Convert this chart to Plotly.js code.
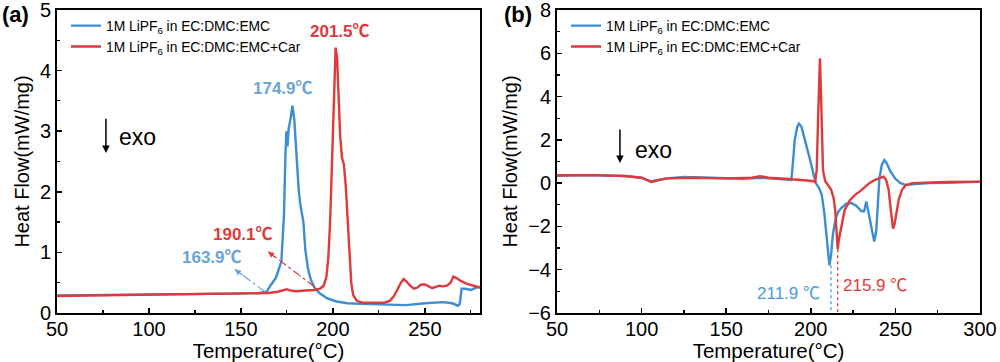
<!DOCTYPE html>
<html>
<head>
<meta charset="utf-8">
<script src="https://cdn.plot.ly/plotly-3.0.1.min.js"></script>
<style>html,body{margin:0;padding:0;background:#fff;}#chart{width:1000px;height:362px;}</style>
</head>
<body>
<div id="chart"></div>
<script>
// ---------- Data: panel (a) ----------
const aBlueT = [50,100,150,160,164,166,169,172,173.4,174.2,174.7,175.3,176,177,178,179,180.2,181.5,182.5,183.3,184,185,186.5,188,190,193,197,202,208,215,225,235,240,250,260,265,268,269,270,272,275,278,280];
const aBlueV = [0.29,0.30,0.32,0.33,0.35,0.45,0.58,0.85,1.6,2.6,3.0,2.75,3.05,3.2,3.42,3.2,2.6,2.0,1.75,1.62,1.5,1.05,0.72,0.55,0.42,0.32,0.24,0.19,0.16,0.15,0.14,0.13,0.13,0.16,0.18,0.16,0.12,0.15,0.40,0.40,0.38,0.42,0.43];
const aRedT = [50,70,100,130,150,165,170,173,175,177,180,185,190,193,195,196.5,197.5,198.5,199.5,200.5,201.5,202.3,203,204,205,206,207,208,209,210,211,213,216,222,228,231,233,235,237,238.5,240,242,244,246,248,250,252,254,256,258,260,262,264,265.5,267,270,273,276,280];
const aRedV = [0.28,0.29,0.30,0.31,0.32,0.33,0.35,0.37,0.39,0.37,0.36,0.37,0.38,0.40,0.45,0.6,0.9,1.5,2.4,3.5,4.38,4.2,3.6,2.9,2.55,2.45,2.1,1.5,0.9,0.5,0.3,0.2,0.17,0.17,0.17,0.2,0.27,0.38,0.5,0.56,0.52,0.45,0.4,0.42,0.47,0.47,0.44,0.41,0.43,0.45,0.44,0.45,0.5,0.6,0.58,0.52,0.48,0.45,0.42];

// ---------- Data: panel (b) ----------
const bBlueT = [50,70,90,100,105,108,115,125,135,150,160,170,175,185,188.5,189.5,190.5,192,193,194.5,197,199.5,201.5,203,205,206.5,208,209.5,211,212,213,214.5,216,218,221,224,227,230,231.5,232.8,234,236,237.5,238.7,239.5,240.5,242,243.5,245,247,250,253,256,260,270,280,290,300];
const bBlueV = [0.35,0.37,0.33,0.25,0.08,0.12,0.22,0.28,0.25,0.2,0.2,0.25,0.22,0.17,0.15,1.0,2.0,2.6,2.75,2.6,1.9,1.1,0.45,0.0,-0.25,-0.55,-1.4,-2.6,-3.8,-3.3,-2.4,-1.7,-1.35,-1.15,-0.95,-0.92,-1.05,-1.3,-1.3,-0.85,-1.3,-2.2,-2.7,-2.2,-1.2,0.2,0.85,1.07,0.9,0.55,0.2,0.0,-0.08,-0.05,0.0,0.02,0.05,0.06];
const bRedT = [50,70,90,100,106,109,115,130,150,165,170,175,185,195,201,202.5,203.5,204.3,205,205.4,205.9,206.5,207.2,208.5,210,212,213.5,214.5,215.2,215.9,216.6,218,220,223,226,229,232,235,238,241,243,244.5,246,247.5,248.6,249.5,250.5,252,254,256,260,270,280,300];
const bRedV = [0.35,0.37,0.33,0.25,0.05,0.12,0.22,0.25,0.22,0.25,0.32,0.25,0.2,0.15,0.1,0.05,0.6,3.0,5.6,5.77,4.5,2.5,0.6,0.1,-0.1,-0.3,-0.7,-1.3,-2.2,-3.05,-2.6,-2.0,-1.25,-0.8,-0.55,-0.38,-0.2,0.02,0.15,0.25,0.3,0.15,-0.3,-1.4,-2.1,-1.9,-1.4,-0.75,-0.3,-0.1,0.0,0.03,0.05,0.07];

const seriesNames = ['1M LiPF<sub>6</sub> in EC:DMC:EMC','1M LiPF<sub>6</sub> in EC:DMC:EMC+Car'];
const xTicksA = [50,100,150,200,250];
const xTicksB = [50,100,150,200,250,300];
const peakA = [{t:201.5,label:'201.5℃'},{t:174.9,label:'174.9℃'},{t:190.1,label:'190.1℃'},{t:163.9,label:'163.9℃'}];
const peakB = [{t:211.9,v:-3.8,label:'211.9 ℃'},{t:215.9,v:-3.05,label:'215.9 ℃'}];

const BLUE = '#3d8ed1', RED = '#e0393b', BLUE_L = '#6aa3d6';
const FONT = 'Arial, "Liberation Sans", "Noto Sans CJK SC", sans-serif';
const AX_FS = 20;

const traces = [
  {x:aBlueT,y:aBlueV,xaxis:'x',yaxis:'y',mode:'lines',name:seriesNames[0],line:{color:BLUE,width:2.4},legend:'legend'},
  {x:aRedT,y:aRedV,xaxis:'x',yaxis:'y',mode:'lines',name:seriesNames[1],line:{color:RED,width:2.4},legend:'legend'},
  {x:bBlueT,y:bBlueV,xaxis:'x2',yaxis:'y2',mode:'lines',name:seriesNames[0],line:{color:BLUE,width:2.4},legend:'legend2'},
  {x:bRedT,y:bRedV,xaxis:'x2',yaxis:'y2',mode:'lines',name:seriesNames[1],line:{color:RED,width:2.4},legend:'legend2'}
];

const ydom = [0.1354,0.9724];
function xax(dom, range, ticks, anchor){
  return {domain:dom, range:range, anchor:anchor, tickvals:ticks, ticks:'inside', ticklen:5, tickwidth:1.5, tickcolor:'#000',
    showline:true, linewidth:2, linecolor:'#000', mirror:true, showgrid:false, zeroline:false, ticklabeloverflow:'allow',
    ticklabelstandoff:-3,
    minor:{ticks:'inside', ticklen:3, tickwidth:1.2, tickcolor:'#000', dtick:25, tick0:50},
    tickfont:{family:FONT,size:AX_FS,color:'#000'},
    title:{text:'Temperature(°C)', font:{family:FONT,size:20.5,color:'#000'}, standoff:1}};
}
function yax(range, dtick, anchor){
  return {domain:ydom, range:range, anchor:anchor, dtick:dtick, ticks:'inside', ticklen:5, tickwidth:1.5, tickcolor:'#000',
    showline:true, linewidth:2, linecolor:'#000', mirror:true, showgrid:false, zeroline:false, ticklabeloverflow:'allow',
    minor:{ticks:'inside', ticklen:3, tickwidth:1.2, tickcolor:'#000', dtick:dtick/2},
    tickfont:{family:FONT,size:AX_FS,color:'#000'},
    title:{text:'Heat Flow(mW/mg)', font:{family:FONT,size:20,color:'#000'}, standoff:5}};
}

const annotations = [
  {xref:'paper',yref:'paper',x:0,y:1.0,xanchor:'left',yanchor:'top',text:'<b>(a)</b>',showarrow:false,font:{family:FONT,size:22,color:'#000'}},
  {xref:'paper',yref:'paper',x:0.502,y:1.0,xanchor:'left',yanchor:'top',text:'<b>(b)</b>',showarrow:false,font:{family:FONT,size:22,color:'#000'}},
  // panel a peak labels
  {xref:'x',yref:'y',x:203.8,y:4.64,text:'<b>'+peakA[0].label+'</b>',showarrow:false,font:{family:FONT,size:17,color:RED}},
  {xref:'x',yref:'y',x:172.8,y:3.70,text:'<b>'+peakA[1].label+'</b>',showarrow:false,font:{family:FONT,size:17,color:BLUE_L}},
  {xref:'x',yref:'y',x:151.1,y:1.30,text:'<b>'+peakA[2].label+'</b>',showarrow:false,font:{family:FONT,size:17,color:RED}},
  {xref:'x',yref:'y',x:134.2,y:0.91,text:'<b>'+peakA[3].label+'</b>',showarrow:false,font:{family:FONT,size:17,color:BLUE_L}},
  // arrowheads for dash-dot arrows
  {xref:'x',yref:'y',x:146.7,y:0.72,ax:9,ay:7,text:'',showarrow:true,arrowhead:2,arrowsize:1,arrowwidth:1.2,arrowcolor:BLUE_L},
  {xref:'x',yref:'y',x:164.8,y:1.01,ax:9,ay:7,text:'',showarrow:true,arrowhead:2,arrowsize:1,arrowwidth:1.2,arrowcolor:RED},
  // exo arrows
  {xref:'x',yref:'y',axref:'x',ayref:'y',x:76.6,y:2.64,ax:76.6,ay:3.23,text:'',showarrow:true,arrowhead:2,arrowsize:1,arrowwidth:1.5,arrowcolor:'#000'},
  {xref:'x',yref:'y',x:82.6,y:2.90,xanchor:'left',text:'exo',showarrow:false,font:{family:FONT,size:23,color:'#000'}},
  {xref:'x2',yref:'y2',axref:'x2',ayref:'y2',x:87.2,y:0.93,ax:87.2,ay:2.55,text:'',showarrow:true,arrowhead:2,arrowsize:1,arrowwidth:1.5,arrowcolor:'#000'},
  {xref:'x2',yref:'y2',x:94.9,y:1.53,xanchor:'left',text:'exo',showarrow:false,font:{family:FONT,size:23,color:'#000'}},
  // panel b labels
  {xref:'x2',yref:'y2',x:187.1,y:-5.08,text:peakB[0].label,showarrow:false,font:{family:FONT,size:17,color:'#4a9ad8'}},
  {xref:'x2',yref:'y2',x:237.9,y:-4.71,text:peakB[1].label,showarrow:false,font:{family:FONT,size:17,color:RED}}
];

const shapes = [
  {type:'line',xref:'x',yref:'y',x0:163.0,y0:0.35,x1:146.7,y1:0.72,line:{color:BLUE_L,width:1.2,dash:'dashdot'}},
  {type:'line',xref:'x',yref:'y',x0:190.2,y0:0.43,x1:164.8,y1:1.01,line:{color:RED,width:1.2,dash:'dashdot'}},
  {type:'line',xref:'x2',yref:'y2',x0:peakB[0].t,y0:peakB[0].v,x1:peakB[0].t,y1:-6,line:{color:'#4a9ad8',width:1.3,dash:'dot'}},
  {type:'line',xref:'x2',yref:'y2',x0:peakB[1].t,y0:peakB[1].v,x1:peakB[1].t,y1:-6,line:{color:RED,width:1.3,dash:'dot'}}
];

const legendStyle = (x)=>({x:x,y:0.972,xref:'paper',yref:'paper',xanchor:'left',yanchor:'top',bgcolor:'rgba(0,0,0,0)',
  font:{family:FONT,size:13.8,color:'#000'},tracegroupgap:0,itemwidth:30});

const layout = {
  width:1000,height:362,margin:{l:0,r:0,t:0,b:0},
  paper_bgcolor:'#fff',plot_bgcolor:'#fff',
  showlegend:true,
  xaxis:xax([0.057,0.480],[50,280],xTicksA,'y'),
  yaxis:yax([0,5],1,'x'),
  xaxis2:xax([0.557,0.980],[50,300],xTicksB,'y2'),
  yaxis2:yax([-6,8],2,'x2'),
  legend:legendStyle(0.066),
  legend2:legendStyle(0.566),
  annotations:annotations,
  shapes:shapes
};

Plotly.newPlot('chart',traces,layout,{staticPlot:true,displayModeBar:false});
</script>
</body>
</html>
